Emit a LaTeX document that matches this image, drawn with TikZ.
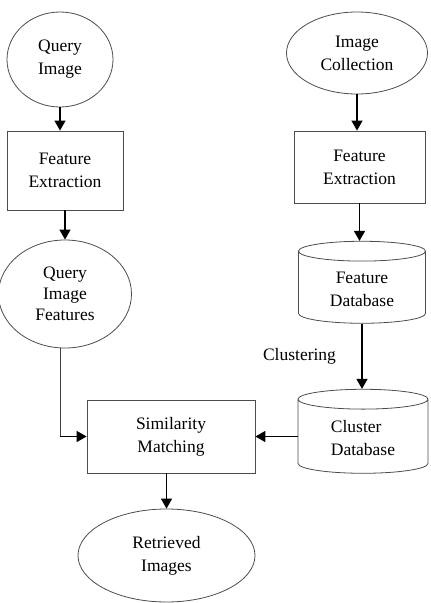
\documentclass[tikz,border=0pt]{standalone}
\usepackage{fontspec}
\setmainfont{Liberation Serif}
\usetikzlibrary{shapes.geometric, arrows.meta}

\tikzset{
  outline/.style={draw=black!70, line width=0.8pt},
  oval/.style={outline, ellipse, align=center, inner sep=0pt},
  box/.style={outline, rectangle, align=center},
  store/.style={outline, cylinder, shape border rotate=90, shape aspect=0.28, align=center},
  flow/.style={draw=black, line width=1.4pt, -{Triangle[length=10pt,width=11pt]}},
  thinflow/.style={draw=black!75, line width=0.8pt}
}

\begin{document}
\begin{tikzpicture}[x=1pt,y=-1pt,font=\fontsize{17.5}{23}\selectfont]
\useasboundingbox (0,0) rectangle (431,603);

% left column
\node[oval, minimum width=106, minimum height=95] (qimg) at (60,59.5) {Query\\Image};
\node[box, minimum width=116, minimum height=79] (fe1) at (65,170.5) {Feature\\Extraction};
\node[oval, minimum width=133, minimum height=108, font=\fontsize{17.5}{21}\selectfont] (qif) at (65,294) {Query\\Image\\Features};

% right column
\node[oval, minimum width=141, minimum height=82] (coll) at (357,53) {Image\\Collection};
\node[box, minimum width=131, minimum height=72] (fe2) at (359.5,167) {Feature\\Extraction};
\node[store, minimum width=127, minimum height=82] (fdb) at (362,289) {Feature\\Database};
\node[store, minimum width=130, minimum height=84, align=left] (cdb) at (363,438) {Cluster\\Database};

% bottom
\node[box, minimum width=168, minimum height=73] (sm) at (171,436.5) {Similarity\\Matching};
\node[oval, minimum width=177, minimum height=93] (ret) at (166.5,555.5) {Retrieved\\Images};

% connectors
\draw[flow] (qimg.south) -- (qimg.south |- fe1.north);
\draw[flow] (fe1.south) -- (qif.north);
\coordinate (bend) at (qif.-95 |- sm.west);
\draw[thinflow] (qif.-95) -- (bend);
\draw[flow] (bend) -- (sm.west);
\draw[flow] (coll.south) -- (coll.south |- fe2.north);
\draw[flow] (fe2.south) -- (fe2.south |- fdb.north);
\draw[flow] (fdb.south) -- node[midway, left=22pt] {Clustering} (fdb.south |- cdb.north);
\draw[flow] (cdb.west |- sm.east) -- (sm.east);
\draw[flow] (ret.north |- sm.south) -- (ret.north);

\end{tikzpicture}
\end{document}
